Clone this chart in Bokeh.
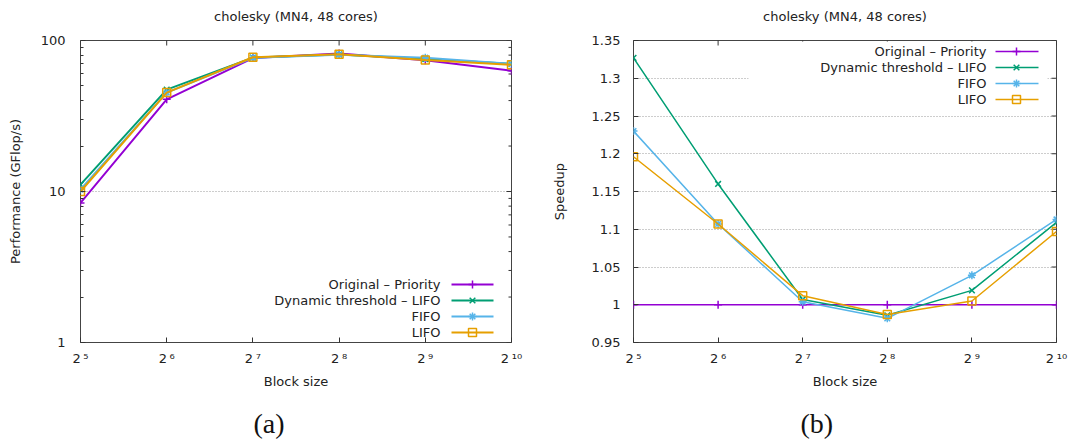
import math
from bokeh.plotting import figure
from bokeh.layouts import row
from bokeh.models import FixedTicker, CustomJSTickFormatter, Title, ColumnDataSource
from bokeh.core.properties import value
from bokeh.embed import file_html
from bokeh.resources import INLINE

# ---------------- data ----------------
block_sizes = [32, 64, 128, 256, 512, 1024]
x_tick_labels = ["2\u2009\u2075", "2\u2009\u2076", "2\u2009\u2077",
                 "2\u2009\u2078", "2\u2009\u2079", "2\u2009\u00b9\u2070"]
series_names = ["Original \u2013 Priority", "Dynamic threshold \u2013 LIFO", "FIFO", "LIFO"]

perf_priority = [8.4, 40.8, 76.5, 82.0, 74.0, 63.0]
perf_dynamic = [11.1, 47.3, 77.0, 80.8, 75.4, 70.0]
perf_fifo = [10.3, 45.2, 76.8, 80.5, 76.9, 70.1]
perf_lifo = [10.0, 45.2, 77.4, 81.0, 74.4, 69.1]

speedup_priority = [1.0, 1.0, 1.0, 1.0, 1.0, 1.0]
speedup_dynamic = [1.327, 1.160, 1.007, 0.986, 1.019, 1.109]
speedup_fifo = [1.230, 1.107, 1.004, 0.982, 1.039, 1.113]
speedup_lifo = [1.196, 1.107, 1.012, 0.987, 1.005, 1.097]

perf_ticks = [1, 10, 100]
perf_minor_ticks = [2, 3, 4, 5, 6, 7, 8, 9, 20, 30, 40, 50, 60, 70, 80, 90]
speedup_ticks = [0.95, 1.0, 1.05, 1.1, 1.15, 1.2, 1.25, 1.3, 1.35]

# ---------------- style ----------------
FONT = "DejaVu Sans"
COLORS = ["#9400d3", "#009e73", "#56b4e9", "#e69f00"]
MARKERS = ["cross", "x", "asterisk", "square"]
TEXT_COLOR = "#222222"
TICK_COLOR = "#333333"
FRAME_H = 302
FRAME_TOP = 40
FIG_H = 448


def style_axis(ax):
    ax.axis_line_color = None
    ax.major_tick_in = 5
    ax.major_tick_out = 0
    ax.minor_tick_in = 3
    ax.minor_tick_out = 0
    ax.major_tick_line_color = TICK_COLOR
    ax.minor_tick_line_color = TICK_COLOR
    ax.major_label_text_font = FONT
    ax.major_label_text_font_size = "13px"
    ax.major_label_text_color = TEXT_COLOR
    ax.axis_label_text_font = FONT
    ax.axis_label_text_font_size = "13px"
    ax.axis_label_text_font_style = "normal"
    ax.axis_label_text_color = TEXT_COLOR


def make_fig(kind, frame_left, frame_w, fig_w, series, y_label, sub_label, sub_offset,
             legend_px, y_lab_standoff, y_axis_standoff, legend_box=None):
    if kind == "log":
        y_range = (perf_ticks[0], perf_ticks[-1])
        y_major, y_minor = perf_ticks, perf_minor_ticks
    else:
        y_range = (speedup_ticks[0], speedup_ticks[-1])
        y_major, y_minor = speedup_ticks, []
    p = figure(frame_width=frame_w, frame_height=FRAME_H,
               x_axis_type="log", y_axis_type=("log" if kind == "log" else "linear"),
               x_range=(block_sizes[0], block_sizes[-1]), y_range=y_range,
               output_backend="svg", toolbar_location=None,
               min_border_left=frame_left, min_border_right=fig_w - frame_left - frame_w,
               min_border_top=FRAME_TOP, min_border_bottom=FIG_H - FRAME_TOP - FRAME_H)
    p.outline_line_color = "#444444"
    p.outline_line_width = 1
    p.background_fill_color = "white"
    p.border_fill_color = "white"

    # a second (empty) line lifts the title away from the frame
    p.title.text = "cholesky (MN4, 48 cores)\n "
    p.title.align = "center"
    p.title.text_font = FONT
    p.title.text_font_size = "13px"
    p.title.text_font_style = "normal"
    p.title.text_color = TEXT_COLOR
    p.title.standoff = 4

    xa = p.xaxis[0]
    xa.ticker = FixedTicker(ticks=block_sizes, minor_ticks=[])
    xa.major_label_overrides = {bs: lab for bs, lab in zip(block_sizes, x_tick_labels)}
    xa.axis_label = "Block size"
    style_axis(xa)
    xa.major_label_standoff = 8
    xa.axis_label_standoff = 5

    ya = p.yaxis[0]
    ya.ticker = FixedTicker(ticks=y_major, minor_ticks=y_minor)
    if kind == "log":
        ya.major_label_overrides = {t: str(t) for t in perf_ticks}
    else:
        ya.formatter = CustomJSTickFormatter(
            code="var s = tick.toFixed(2); s = s.replace(/0+$/, ''); return s.replace(/\\.$/, '');")
    ya.axis_label = y_label
    style_axis(ya)
    ya.major_label_standoff = y_lab_standoff
    ya.axis_label_standoff = y_axis_standoff

    p.xgrid.visible = False
    p.ygrid.ticker = FixedTicker(ticks=y_major[1:-1], minor_ticks=[])
    p.ygrid.grid_line_color = "#9a9a9a"
    p.ygrid.grid_line_dash = "1 2"
    p.ygrid.grid_line_width = 1

    # mirrored ticks on the top and right borders (half of each dash is clipped by the frame)
    p.scatter(x=block_sizes, y=[y_range[1]] * len(block_sizes), marker="dash", size=10,
              angle=math.pi / 2, line_color=TICK_COLOR, line_width=1)
    p.scatter(x=[block_sizes[-1]] * len(y_major), y=y_major, marker="dash", size=10,
              line_color=TICK_COLOR, line_width=1)
    if y_minor:
        p.scatter(x=[block_sizes[-1]] * len(y_minor), y=y_minor, marker="dash", size=6,
                  line_color=TICK_COLOR, line_width=1)

    # pixel -> data helpers (legend placement only)
    def dx(px):
        return 2 ** (math.log2(block_sizes[0]) + (px - frame_left) / frame_w *
                     (math.log2(block_sizes[-1]) - math.log2(block_sizes[0])))

    def dy(py):
        frac = (FRAME_TOP + FRAME_H - py) / FRAME_H
        if kind == "log":
            return 10 ** (math.log10(y_range[0]) + frac * (math.log10(y_range[1]) - math.log10(y_range[0])))
        return y_range[0] + frac * (y_range[1] - y_range[0])

    if legend_box is not None:
        l, r, t, b = legend_box
        p.quad(left=[dx(l)], right=[dx(r)], top=[dy(t)], bottom=[dy(b)],
               fill_color="white", line_color=None)

    lw = 2 if kind == "log" else 1.5
    for name, ys, c, m in zip(series_names, series, COLORS, MARKERS):
        src = ColumnDataSource(dict(x=block_sizes, y=ys))
        p.line("x", "y", source=src, line_color=c, line_width=lw)
        p.scatter("x", "y", source=src, marker=m, size=8, line_color=c,
                  fill_color=(None if m == "square" else c), line_width=1.5)

    text_right, s0, s1, mk, rows = legend_px
    for i, (name, c, m) in enumerate(zip(series_names, COLORS, MARKERS)):
        yy = dy(rows[i])
        p.text(x=[dx(text_right)], y=[yy], text=[name], text_align="right",
               text_baseline="middle", text_font=value(FONT), text_font_size="13px",
               text_color=TEXT_COLOR)
        p.segment(x0=[dx(s0)], y0=[yy], x1=[dx(s1)], y1=[yy], line_color=c, line_width=lw)
        p.scatter(x=[dx(mk)], y=[yy], marker=m, size=8, line_color=c,
                  fill_color=(None if m == "square" else c), line_width=1.5)

    p.add_layout(Title(text=sub_label, align="left", offset=sub_offset,
                       text_font="Liberation Serif", text_font_size="28px",
                       text_font_style="normal", text_color="#111111", standoff=29), "below")
    return p


p1 = make_fig("log", 80, 431, 537,
              [perf_priority, perf_dynamic, perf_fifo, perf_lifo],
              "Performance (GFlop/s)", "(a)", 173,
              (440, 451, 493, 472, [284, 300, 316, 332]), 15, 15)
p2 = make_fig("lin", 96, 423, 536,
              [speedup_priority, speedup_dynamic, speedup_fifo, speedup_lifo],
              "Speedup", "(b)", 167,
              (986 - 537, 995 - 537, 1038 - 537, 1016 - 537, [51, 67, 83, 99]), 13, 22,
              legend_box=(748 - 537, 1047 - 537, 41, 108))

layout = row(p1, p2)
open("out.html", "w").write(file_html(layout, INLINE))
